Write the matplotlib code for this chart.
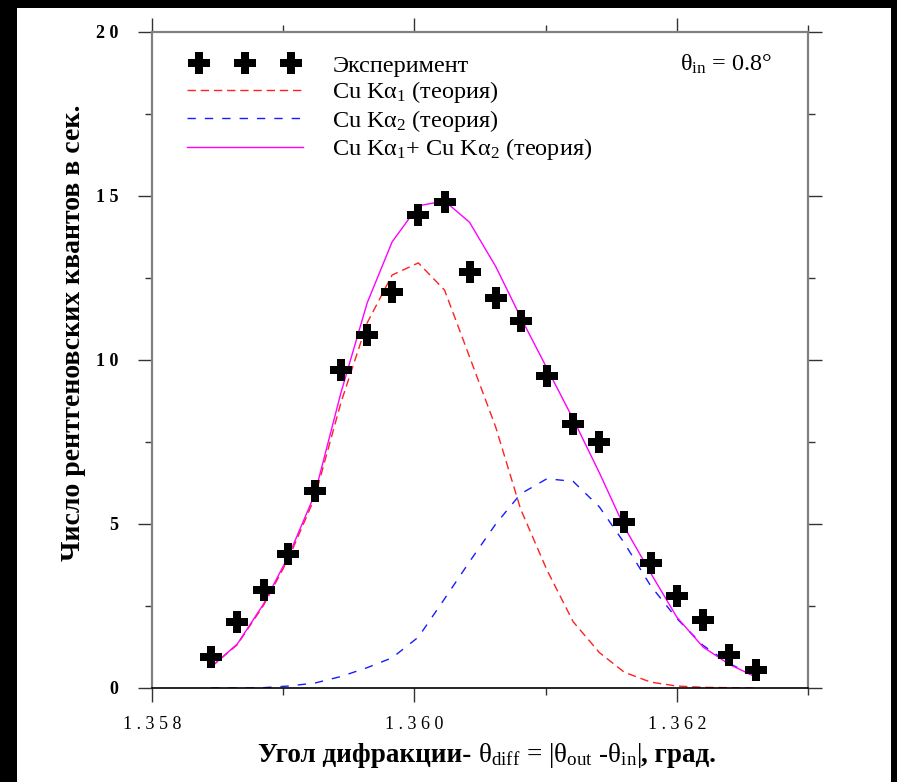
import matplotlib
matplotlib.use("Agg")
import matplotlib.pyplot as plt
from matplotlib.patches import Rectangle
from matplotlib.offsetbox import TextArea, HPacker, AnchoredOffsetbox
from matplotlib.legend_handler import HandlerLine2D

plt.rcParams['font.family'] = ['Liberation Serif', 'DejaVu Serif']
plt.rcParams['mathtext.fontset'] = 'custom'
plt.rcParams['mathtext.rm'] = 'Liberation Serif'
plt.rcParams['mathtext.it'] = 'Liberation Serif:italic'
plt.rcParams['mathtext.bf'] = 'Liberation Serif:bold'

# diffraction angle, deg
angle = [1.35845, 1.35865, 1.35885, 1.35904, 1.35924, 1.35944, 1.35964, 1.35983,
         1.36003, 1.36023, 1.36042, 1.36062, 1.36081, 1.36101, 1.36121, 1.36141,
         1.36160, 1.36180, 1.36200, 1.36220, 1.36240, 1.36260]
# measured counts per second
experiment = [0.95, 2.01, 2.99, 4.09, 6.00, 9.70, 10.76, 12.07, 14.42, 14.82, 12.68,
              11.89, 11.19, 9.51, 8.05, 7.50, 5.06, 3.81, 2.80, 2.07, 1.00, 0.55]
# theory curves
ka1 = [0.64, 1.32, 2.52, 3.94, 5.80, 8.70, 11.13, 12.59, 12.96, 12.13, 10.10,
       7.95, 5.45, 3.60, 2.02, 1.08, 0.48, 0.18, 0.06, 0.02, 0.01, 0.0]
ka2 = [0.0, 0.0, 0.01, 0.06, 0.15, 0.35, 0.62, 0.92, 1.55, 2.72, 3.85,
       5.00, 5.92, 6.38, 6.30, 5.52, 4.42, 3.12, 2.12, 1.30, 0.75, 0.34]
total = [0.64, 1.34, 2.56, 4.02, 5.90, 9.00, 11.74, 13.60, 14.70, 14.85, 14.20,
         12.85, 11.30, 9.75, 8.20, 6.56, 4.91, 3.51, 2.16, 1.25, 0.72, 0.34]

xticks = [1.358, 1.360, 1.362]
xtick_labels = ["1 . 3 5 8", "1 . 3 6 0", "1 . 3 6 2"]
yticks = [0, 5, 10, 15, 20]
ytick_labels = ["0", "5", "1 0", "1 5", "2 0"]

W, H = 897, 782
fig = plt.figure(figsize=(W / 100, H / 100), dpi=100, facecolor='black')
bg = Rectangle((17 / W, 0), (891 - 17) / W, (H - 8) / H,
               transform=fig.transFigure, facecolor='white',
               edgecolor='none', zorder=-10)
fig.add_artist(bg)

ax = fig.add_axes([152 / W, 1 - 688 / H, (808 - 152) / W, (688 - 32) / H])
ax.set_facecolor('white')

exp_line, = ax.plot(angle, experiment, linestyle='none', marker='P', markersize=16,
                    color='black', markeredgewidth=0, label='Эксперимент', zorder=5)
ax.plot(angle, ka1, color='#ff2020', linewidth=1.0, dashes=(6, 3.5),
        label='Cu Kα$_1$ (теория)')
ax.plot(angle, ka2, color='#1a1aff', linewidth=1.0, dashes=(6, 6.5),
        label='Cu Kα$_2$ (теория)')
ax.plot(angle, total, color='#ff00ff', linewidth=1.0,
        label='Cu Kα$_1$+ Cu Kα$_2$ (теория)')

ax.set_xlim(1.358, 1.363)
ax.set_ylim(0, 20)
ax.set_xticks(xticks)
ax.set_xticklabels(xtick_labels, fontsize=13)
ax.set_xticks([1.359, 1.361, 1.363], minor=True)
ax.set_yticks(yticks)
ax.set_yticklabels(ytick_labels, fontsize=13, fontweight='bold')
ax.set_yticks([2.5, 7.5, 12.5, 17.5], minor=True)
ax.tick_params(which='both', direction='out', top=True, right=True, width=1.0,
               color='#333333')
ax.tick_params(which='major', length=10)
ax.tick_params(which='minor', length=5)
ax.tick_params(axis='x', which='major', pad=10)
ax.tick_params(axis='y', which='major', pad=14)

for side in ['left', 'top', 'right']:
    ax.spines[side].set_color('#808080')
    ax.spines[side].set_linewidth(1.6)
ax.spines['bottom'].set_color('black')
ax.spines['bottom'].set_linewidth(1.2)

ax.set_ylabel('Число рентгеновских квантов в сек.', fontsize=20,
              fontweight='bold', va='center', ha='center')
ax.yaxis.set_label_coords(-0.12, 0.541)

bold = dict(fontsize=19.5, fontweight='bold', color='black')
normal = dict(fontsize=19.5, color='black')
xlabel = HPacker(children=[
    TextArea('Угол дифракции- ', textprops=bold),
    TextArea('θ$_{\\mathrm{diff}}$ = |θ$_{\\mathrm{out}}$ -θ$_{\\mathrm{in}}$|',
             textprops=normal),
    TextArea(', град.', textprops=bold)], align='baseline', pad=0, sep=0)
box = AnchoredOffsetbox(loc='center', child=xlabel, frameon=False, pad=0,
                        bbox_to_anchor=(487 / W, 1 - 756 / H),
                        bbox_transform=fig.transFigure, borderpad=0)
fig.add_artist(box)

leg = ax.legend(loc='upper left', bbox_to_anchor=(0.038, 0.98), frameon=False,
                fontsize=17.5, handlelength=4.8, handletextpad=1.2,
                labelspacing=0.1, borderaxespad=0,
                handler_map={exp_line: HandlerLine2D(numpoints=3, marker_pad=0.5)})

ax.text(0.945, 0.95, 'θ$_{\\mathrm{in}}$ = 0.8°', transform=ax.transAxes,
        ha='right', va='center', fontsize=17.5)

fig.savefig('out.png', dpi=100, facecolor='black')
